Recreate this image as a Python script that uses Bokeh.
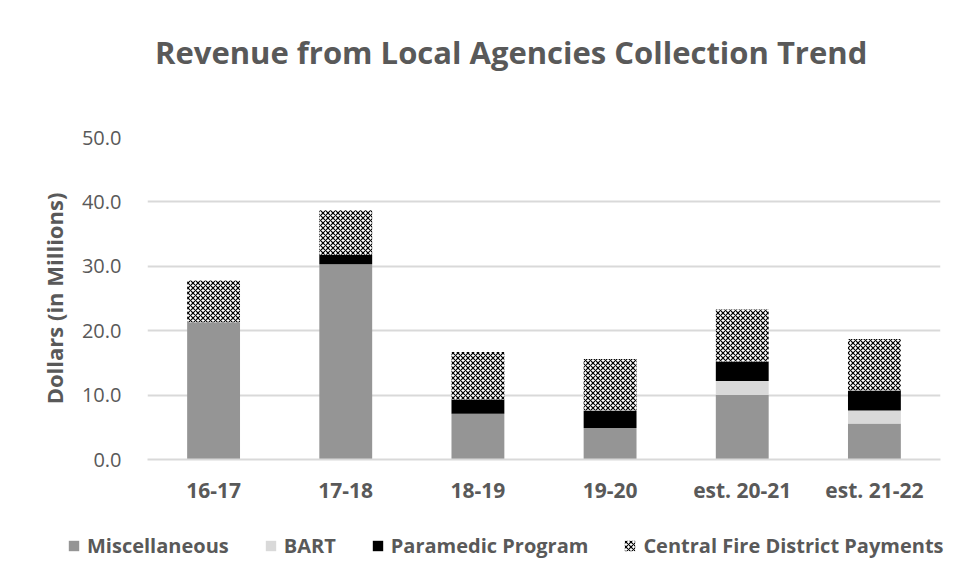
from bokeh.plotting import figure
from bokeh.models import (ColumnDataSource, FactorRange, Legend, LegendItem, SingleIntervalTicker,
                          NumeralTickFormatter, Div)
from bokeh.layouts import column
from bokeh.transform import stack
from bokeh.embed import file_html
from bokeh.resources import INLINE

categories = ["16-17", "17-18", "18-19", "19-20", "est. 20-21", "est. 21-22"]
miscellaneous = [21.3, 30.3, 7.1, 4.9, 10.0, 5.6]
bart = [0.0, 0.0, 0.0, 0.0, 2.2, 2.0]
paramedic = [0.0, 1.5, 2.2, 2.7, 3.0, 3.1]
central_fire = [6.5, 6.9, 7.4, 8.0, 8.1, 8.0]

series = ["misc", "bart", "para", "fire"]
labels = ["Miscellaneous", "BART", "Paramedic Program", "Central Fire District Payments"]
title_text = "Revenue from Local Agencies Collection Trend"

source = ColumnDataSource(dict(cat=categories, misc=miscellaneous, bart=bart,
                               para=paramedic, fire=central_fire))

FONT = "Open Sans"
TXT = "#595959"
fills = ["#959595", "#d9d9d9", "#000000", "#ffffff"]


def add_bars(fig, visible=True):
    rs = []
    for i, s in enumerate(series):
        kw = {}
        if s == "fire":
            kw = dict(hatch_pattern="diagonal_cross", hatch_color="#000000",
                      hatch_scale=5, hatch_weight=1.2)
        r = fig.vbar(x="cat", width=0.4, bottom=stack(*series[:i]), top=stack(*series[:i + 1]),
                     source=source, fill_color=fills[i], line_color=None, visible=visible, **kw)
        rs.append(r)
    return rs


# title
title_div = Div(text=('<div style="position:absolute; left:155px; top:31px; white-space:nowrap; '
                      'font-family:\'Open Sans\'; font-size:31px; font-weight:bold; line-height:42px; '
                      'color:%s;">%s</div>' % (TXT, title_text)),
                width=960, height=100, margin=0)

# main chart
p = figure(x_range=FactorRange(*categories, range_padding=0), y_range=(0, 50),
           width=960, height=420, output_backend="svg", toolbar_location=None,
           min_border_left=147, min_border_right=20, min_border_top=37, min_border_bottom=61,
           margin=0)

p.outline_line_color = None
p.xgrid.grid_line_color = None
p.ygrid.grid_line_color = "#d9d9d9"
p.ygrid.grid_line_width = 2

p.yaxis.ticker = SingleIntervalTicker(interval=10)
p.yaxis.formatter = NumeralTickFormatter(format="0.0")
p.yaxis.axis_line_color = None
p.yaxis.major_tick_line_color = None
p.yaxis.minor_tick_line_color = None
p.yaxis.major_label_text_font = FONT
p.yaxis.major_label_text_font_size = "20px"
p.yaxis.major_label_text_color = TXT
p.yaxis.major_label_standoff = 20
p.yaxis.axis_label = "Dollars (in Millions)"
p.yaxis.axis_label_text_font = FONT
p.yaxis.axis_label_text_font_size = "22px"
p.yaxis.axis_label_text_font_style = "bold"
p.yaxis.axis_label_text_color = TXT
p.yaxis.axis_label_standoff = 10

p.xaxis.axis_line_color = "#d9d9d9"
p.xaxis.axis_line_width = 2
p.xaxis.major_tick_line_color = None
p.xaxis.minor_tick_line_color = None
p.xaxis.major_label_text_font = FONT
p.xaxis.major_label_text_font_size = "21px"
p.xaxis.major_label_text_font_style = "bold"
p.xaxis.major_label_text_color = TXT
p.xaxis.major_label_standoff = 10

add_bars(p)

# legend strip (its bar renderers are hidden; only the legend is seen)
lg = figure(x_range=FactorRange(*categories, range_padding=0), y_range=(-100, -50),
            width=960, height=51, output_backend="svg", toolbar_location=None,
            x_axis_location=None, y_axis_location=None, min_border=0, margin=0)
lg.frame_align = False
lg.outline_line_color = None
lg.grid.grid_line_color = None
lrs = add_bars(lg, visible=False)

legend = Legend(items=[LegendItem(label=labels[i], renderers=[lrs[i]]) for i in range(4)],
                orientation="horizontal", location=(67, 12), click_policy="none",
                label_text_font=FONT, label_text_font_size="20px", label_text_font_style="bold",
                label_text_color=TXT, glyph_width=13, glyph_height=13, spacing=35,
                label_standoff=7, border_line_color=None, background_fill_alpha=0,
                padding=0, margin=0)
lg.add_layout(legend, "center")

layout = column(title_div, p, lg, spacing=0)

open("out.html", "w").write(file_html(layout, INLINE))
